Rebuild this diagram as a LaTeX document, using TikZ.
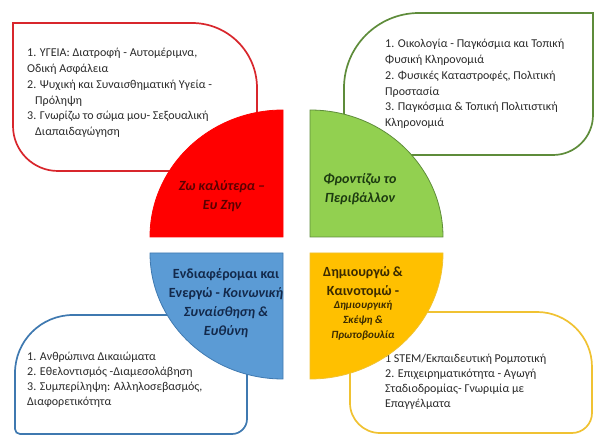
\documentclass[tikz,border=0pt]{standalone}
\usepackage{fontspec}
\setmainfont{Carlito}
\usetikzlibrary{positioning}

\definecolor{qred}{HTML}{FF0000}
\definecolor{qgreen}{HTML}{92D050}
\definecolor{qblue}{HTML}{5B9BD5}
\definecolor{qorange}{HTML}{FFC000}
\definecolor{lred}{HTML}{D8262C}
\definecolor{lgreen}{HTML}{5E8C3A}
\definecolor{lblue}{HTML}{3F79B0}
\definecolor{lorange}{HTML}{F0C232}
\definecolor{boxtext}{HTML}{2A2A2A}
\definecolor{tred}{HTML}{5A0000}
\definecolor{tgreen}{HTML}{1C3A10}
\definecolor{tblue}{HTML}{13294B}
\definecolor{torange}{HTML}{3A2A00}

\begin{document}
\begin{tikzpicture}[x=1pt, y=1pt,
        boxline/.style={line width=1.7pt, fill=white},
        quarter/.style={line width=0.8pt},
        itemtext/.style={anchor=north west, align=left, inner sep=0pt, text=boxtext, font=\fontsize{12}{15.8}\selectfont},
        titletext/.style={align=center, inner sep=0pt, font=\fontsize{14}{19}\selectfont\bfseries},
        titleit/.style={align=center, inner sep=0pt, font=\fontsize{14}{19}\selectfont\bfseries\itshape},
        subtext/.style={align=center, inner sep=0pt, font=\fontsize{11}{15}\selectfont\bfseries\itshape}]
        \useasboundingbox (0,0) rectangle (595,437);

        % Boxes
        \draw[boxline, draw=lred] (13,414) -- (192,414) arc[start angle=90, end angle=0, radius=65] -- (257,276) arc[start angle=0, end angle=-90, radius=10] -- (58,266) arc[start angle=270, end angle=180, radius=45] -- cycle;
        \draw[boxline, draw=lgreen] (344,349) arc[start angle=180, end angle=90, radius=75] -- (593,424) -- (593,322) arc[start angle=0, end angle=-90, radius=40] -- (354,282) arc[start angle=270, end angle=180, radius=10] -- cycle;
        \draw[boxline, draw=lblue] (15,64) arc[start angle=180, end angle=90, radius=58] -- (207,122) arc[start angle=90, end angle=0, radius=40] -- (247,18) arc[start angle=0, end angle=-90, radius=15] -- (20,3) arc[start angle=270, end angle=180, radius=5] -- cycle;
        \draw[boxline, draw=lorange] (360,125) -- (537,125) arc[start angle=90, end angle=0, radius=55] -- (592,24) arc[start angle=0, end angle=-90, radius=20] -- (380,4) arc[start angle=270, end angle=180, radius=30] -- (350,115) arc[start angle=180, end angle=90, radius=10] -- cycle;

        % Box texts
        \node (redlist) [itemtext] at (27,389) {1. ΥΓΕΙΑ: Διατροφή - Αυτομέριμνα,\\ Οδική Ασφάλεια\\ 2. Ψυχική και Συναισθηματική Υγεία -\\ \hspace*{8pt}Πρόληψη\\ 3. Γνωρίζω το σώμα μου- Σεξουαλική\\ \hspace*{8pt}Διαπαιδαγώγηση};
        \node (greenlist) [itemtext] at (385,398) {1. Οικολογία - Παγκόσμια και Τοπική\\ Φυσική Κληρονομιά\\ 2. Φυσικές Καταστροφές, Πολιτική\\ Προστασία\\ 3. Παγκόσμια \& Τοπική Πολιτιστική\\ Κληρονομιά};
        \node (bluelist) [itemtext, font=\fontsize{12}{14.8}\selectfont] at (27,85) {1. Ανθρώπινα Δικαιώματα\\ 2. Εθελοντισμός -Διαμεσολάβηση\\ 3. Συμπερίληψη: Αλληλοσεβασμός,\\ Διαφορετικότητα};
        \node (orangelist) [itemtext, font=\fontsize{12}{14.8}\selectfont] at (385,83) {1 STEM/Εκπαιδευτική Ρομποτική\\ 2. Επιχειρηματικότητα - Αγωγή\\ Σταδιοδρομίας- Γνωριμία με\\ Επαγγέλματα};

        % Quarters
        \filldraw[quarter, fill=qred, draw=qred] (283,200) -- (150,200) arc[start angle=180, end angle=90, x radius=133, y radius=127] -- cycle;
        \filldraw[quarter, fill=qgreen, draw=lgreen] (310,200) -- (443,200) arc[start angle=0, end angle=90, x radius=133, y radius=127] -- cycle;
        \filldraw[quarter, fill=qblue, draw=lblue] (283,184) -- (150,184) arc[start angle=180, end angle=270, x radius=133, y radius=126] -- cycle;
        \filldraw[quarter, fill=qorange, draw=lorange] (310,184) -- (443,184) arc[start angle=0, end angle=-90, x radius=133, y radius=126] -- cycle;

        % Quarter texts
        \node (redtitle) [titleit, text=tred] at (222,241) {Ζω καλύτερα –\\ Ευ Ζην};
        \node (greentitle) [titleit, text=tgreen] at (360,248) {Φροντίζω το\\ Περιβάλλον};
        \begin{scope}
            \clip (140,50) rectangle (288,190);
            \node (bluetitle) [titletext, text=tblue] at (226,134) {Ενδιαφέρομαι και\\ Ενεργώ - \textit{Κοινωνική}\\ \textit{Συναίσθηση \&}\\ \textit{Ευθύνη}};
        \end{scope}
        \node (orangehead) [titletext, text=torange] at (363,155) {Δημιουργώ \&\\ Καινοτομώ -};
        \node (orangesub) [subtext, text=torange, below=3pt of orangehead] {Δημιουργική\\ Σκέψη \&\\ Πρωτοβουλία};
    \end{tikzpicture}
\end{document}
